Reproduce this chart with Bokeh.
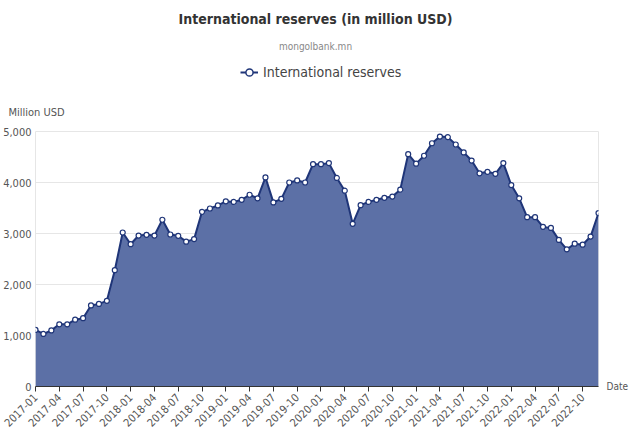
import math
import pandas as pd
from bokeh.plotting import figure
from bokeh.layouts import column
from bokeh.models import (ColumnDataSource, Range1d, FixedTicker, NumeralTickFormatter,
                          Legend, LegendItem, LinearAxis, Title)
from bokeh.core.properties import value
from bokeh.embed import file_html
from bokeh.resources import INLINE

# Monthly international reserves, million USD
months = [p.strftime("%Y-%m") for p in pd.period_range("2017-01", "2022-12", freq="M")]
reserves = [
    1110, 1030, 1100, 1220, 1220, 1310, 1340, 1590, 1620, 1680, 2280, 3020,
    2790, 2960, 2975, 2960, 3270, 2980, 2955, 2840, 2890, 3425, 3490, 3550,
    3630, 3620, 3660, 3760, 3690, 4100, 3610, 3680, 4000, 4040, 4000, 4360,
    4360, 4380, 4090, 3840, 3190, 3555, 3620, 3660, 3700, 3725, 3860, 4555,
    4370, 4525, 4770, 4900, 4890, 4745, 4590, 4430, 4180, 4210, 4170, 4380,
    3950, 3690, 3320, 3320, 3130, 3110, 2875, 2690, 2800, 2780, 2940, 3400,
]
y_ticks = [0, 1000, 2000, 3000, 4000, 5000]
series_name = "International reserves"

idx = list(range(len(months)))
src = ColumnDataSource(dict(x=idx, y=reserves, month=months))

FONT = "DejaVu Sans Condensed"
LINE = "#1f3578"
FILL = "#5c70a6"
W = 631
HEAD_H = 88
FRAME_L, FRAME_R = 35, 600   # the column lines both frames up on these edges


def header_text(fig, x, y, text, size, color, style="normal", align="center"):
    fig.text(x=[x], y=[y], text=[text], text_font=value(FONT), text_font_size=size,
             text_color=color, text_font_style=style, text_align=align,
             text_baseline="middle")


# ---- header: title, source, legend (page pixel coordinates, y downwards)
head = figure(width=W, height=HEAD_H, output_backend="svg", toolbar_location=None,
              x_range=Range1d(FRAME_L, FRAME_R), y_range=Range1d(HEAD_H, 0),
              x_axis_type=None, y_axis_type=None,
              min_border_left=FRAME_L, min_border_right=W - FRAME_R, min_border_top=0,
              min_border_bottom=0)
head.outline_line_color = None
head.grid.visible = False

header_text(head, 316, 18, "International reserves (in million USD)", "14px", "#333333", "bold")
header_text(head, 316, 46, "mongolbank.mn", "10px", "#888888")

# legend swatch: the series drawn in header space falls outside its view,
# only the legend picks up its look
sw_line = head.line("x", "y", source=src, line_color=LINE, line_width=2)
sw_dot = head.scatter("x", "y", source=src, marker="circle", size=7, fill_color="white",
                      line_color=LINE, line_width=1.5)
legend = Legend(items=[LegendItem(label=series_name, renderers=[sw_line, sw_dot])],
                location=(240 - FRAME_L, HEAD_H - 72 - 10), orientation="horizontal",
                padding=0, margin=0, spacing=0, glyph_width=18, glyph_height=20,
                label_standoff=5, label_text_font=FONT, label_text_font_size="14px",
                label_text_color="#444444", label_text_baseline="middle",
                border_line_color=None, background_fill_alpha=0)
head.add_layout(legend)

# ---- main chart
p = figure(width=W, height=436 - HEAD_H, output_backend="svg", toolbar_location=None,
           x_range=Range1d(0, len(months) - 1), y_range=Range1d(0, 5000),
           min_border_left=FRAME_L, min_border_right=W - FRAME_R,
           min_border_top=131 - HEAD_H, min_border_bottom=50)
p.background_fill_color = "white"
p.border_fill_color = "white"
p.outline_line_color = "#e6e6e6"

# y-axis name, above the tick labels
p.add_layout(Title(text="Million USD", align="left", offset=8 - FRAME_L, standoff=26,
                   text_font=FONT, text_font_size="11px", text_font_style="normal",
                   text_color="#555555"), "above")

p.varea(x="x", y1=0, y2="y", source=src, fill_color=FILL, fill_alpha=1.0)
p.line("x", "y", source=src, line_color=LINE, line_width=2)
p.scatter("x", "y", source=src, marker="circle", size=5,
          fill_color="white", line_color=LINE, line_width=1.2)

p.xgrid.grid_line_color = None
p.ygrid.grid_line_color = "#e6e6e6"
p.ygrid.ticker = FixedTicker(ticks=y_ticks)

# x axis: quarterly labels, rotated
xa = p.xaxis[0]
xa.ticker = FixedTicker(ticks=idx[::3])
xa.major_label_overrides = {i: months[i] for i in idx[::3]}
xa.major_label_orientation = math.pi / 4
xa.axis_line_color = "#333333"
xa.major_tick_line_color = "#333333"
xa.major_tick_out = 5
xa.major_tick_in = 0
xa.minor_tick_line_color = None
xa.minor_tick_out = 0
xa.major_label_text_font = FONT
xa.major_label_text_font_size = "11px"
xa.major_label_text_color = "#555555"
xa.major_label_standoff = 4

# y axis
ya = p.yaxis[0]
ya.ticker = FixedTicker(ticks=y_ticks)
ya.formatter = NumeralTickFormatter(format="0,0")
ya.axis_line_color = None
ya.major_tick_line_color = None
ya.minor_tick_line_color = None
ya.major_tick_out = 0
ya.major_tick_in = 0
ya.minor_tick_out = 0
ya.minor_tick_in = 0
ya.major_label_text_font = FONT
ya.major_label_text_font_size = "11px"
ya.major_label_text_color = "#555555"
ya.major_label_standoff = 4

# axis name at the right end of the x axis
date_axis = LinearAxis(ticker=FixedTicker(ticks=[0]), major_label_overrides={0: "Date"},
                       axis_line_color=None, major_tick_line_color=None,
                       minor_tick_line_color=None, major_tick_out=0, major_tick_in=0,
                       minor_tick_out=0, minor_tick_in=0, major_label_standoff=8,
                       major_label_text_font=FONT, major_label_text_font_size="10px",
                       major_label_text_color="#555555")
p.add_layout(date_axis, "right")

layout = column(head, p, spacing=0)
open("out.html", "w").write(file_html(layout, INLINE))
